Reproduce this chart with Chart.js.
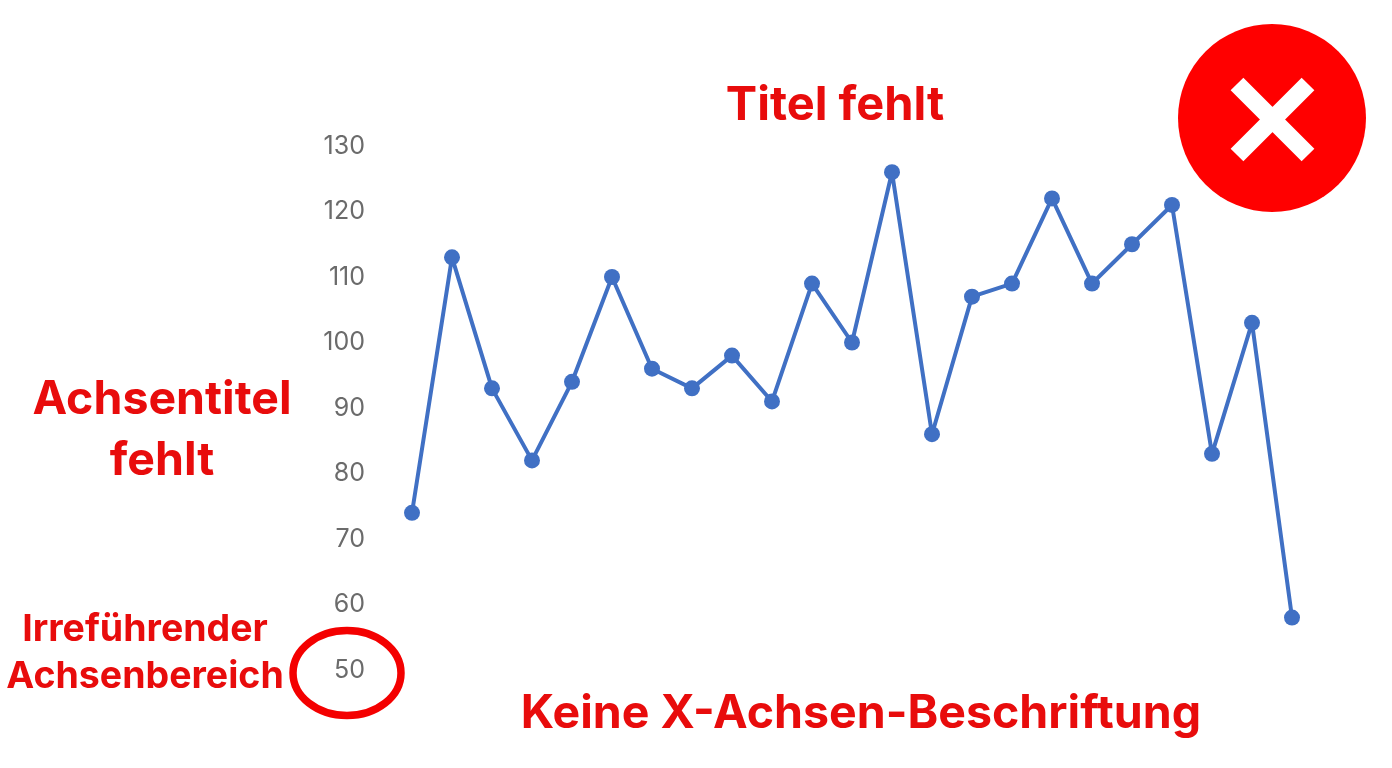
<!DOCTYPE html>
<html lang="de">
<head>
<meta charset="utf-8">
<title>Fehlerhaftes Liniendiagramm</title>
<script src="https://cdn.jsdelivr.net/npm/chart.js@4"></script>
<style>
  html, body { margin: 0; padding: 0; background: #fff; }
  #wrap { position: relative; width: 1392px; height: 768px; }
</style>
</head>
<body>
<div id="wrap"><canvas id="line-chart"></canvas></div>
<script>
const values = [74, 113, 93, 82, 94, 110, 96, 93, 98, 91, 109, 100, 126, 86, 107, 109, 122, 109, 115, 121, 83, 103, 58];
const categories = ["1", "2", "3", "4", "5", "6", "7", "8", "9", "10", "11", "12", "13", "14", "15", "16", "17", "18", "19", "20", "21", "22", "23"];
const yTicks = [50, 60, 70, 80, 90, 100, 110, 120, 130];

const RED = "#e80c0c";

// red remarks round the chart
const notes = [
  { text: "Titel fehlt", x: 835, y: 106, size: 47 },
  { text: "Achsentitel", x: 162, y: 400, size: 46.5 },
  { text: "fehlt", x: 162, y: 461, size: 46.5 },
  { text: "Irreführender", x: 145, y: 630, size: 37.5 },
  { text: "Achsenbereich", x: 145, y: 677, size: 37.5 },
  { text: "Keine X-Achsen-Beschriftung", x: 861, y: 714, size: 46.5 },
];

const remarksPlugin = {
  id: "remarks",
  afterDraw(chart) {
    const ctx = chart.ctx;
    ctx.save();

    ctx.fillStyle = RED;
    ctx.textAlign = "center";
    ctx.textBaseline = "middle";
    notes.forEach((n) => {
      ctx.font = "700 " + n.size + "px Inter";
      ctx.fillText(n.text, n.x, n.y);
    });

    // ring round the lowest tick
    ctx.strokeStyle = "#f40000";
    ctx.lineWidth = 7.5;
    ctx.beginPath();
    ctx.ellipse(347, chart.scales.y.getPixelForValue(50) + 3, 54, 42.5, 0, 0, Math.PI * 2);
    ctx.stroke();

    // red badge with white cross
    ctx.fillStyle = "#ff0000";
    ctx.beginPath();
    ctx.arc(1272, 118, 94, 0, Math.PI * 2);
    ctx.fill();
    ctx.strokeStyle = "#fff";
    ctx.lineWidth = 18;
    ctx.beginPath();
    ctx.moveTo(1237, 84);
    ctx.lineTo(1308, 155);
    ctx.moveTo(1308, 84);
    ctx.lineTo(1237, 155);
    ctx.stroke();

    ctx.restore();
  },
};

const lineData = {
  labels: categories,
  datasets: [
    {
      data: values,
      fill: false,
      tension: 0,
      borderColor: "#4070c4",
      borderWidth: 4,
      borderJoinStyle: "round",
      backgroundColor: "#4070c4",
      pointBackgroundColor: "#4070c4",
      pointBorderWidth: 0,
      pointRadius: 8,
      clip: false,
    },
  ],
};

const lineConfig = {
  type: "line",
  data: lineData,
  plugins: [remarksPlugin],
  options: {
    responsive: true,
    maintainAspectRatio: false,
    animation: false,
    layout: {
      padding: { left: 0, right: 100, top: 146, bottom: 98 },
    },
    plugins: {
      legend: { display: false },
      title: { display: false },
      tooltip: { enabled: false },
    },
    scales: {
      x: {
        display: false,
        offset: false,
      },
      y: {
        min: 50,
        max: 130,
        afterBuildTicks(axis) {
          axis.ticks = yTicks.map((v) => ({ value: v }));
        },
        afterFit(axis) {
          axis.width = 412;
        },
        border: { display: false },
        grid: { display: false, drawTicks: false },
        ticks: {
          color: "#6b6b6b",
          padding: 47,
          font: { family: "Inter", size: 25, weight: "400" },
        },
      },
    },
  },
};

const lineChart = new Chart(document.getElementById("line-chart"), lineConfig);
</script>
</body>
</html>
